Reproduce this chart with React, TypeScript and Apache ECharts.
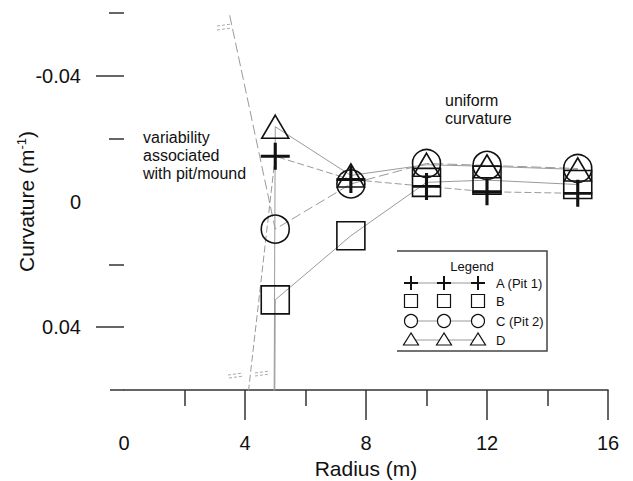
import React, { useEffect, useRef } from 'react';
import * as echarts from 'echarts';

// Radius (m) of the measured points
const radius = [5, 7.5, 10, 12, 15];
// Curvature (1/m) per profile
const curvA = [-0.0144, -0.007, -0.0048, -0.0031, -0.0026];
const curvB = [0.0313, 0.0109, -0.0061, -0.0068, -0.0054];
const curvC = [0.0088, -0.0056, -0.0121, -0.0115, -0.0105];
const curvD = [-0.0238, -0.0083, -0.0117, -0.0112, -0.0102];
// off-scale points (lines continue beyond the plotted range near the pit/mound)
const offA = [4.0, 0.07];
const offB = [4.98, 0.07];
const offC = [3.3, -0.068];
const offD = [4.96, 0.07];

const seriesNames = ['A (Pit 1)', 'B', 'C (Pit 2)', 'D'];
const xLabelValues = [0, 4, 8, 12, 16];
const xMajorTicks = [4, 8, 12, 16];
const xMinorTicks = [2, 6, 10, 14];
const yLabelValues = [-0.04, 0, 0.04];
const yMajorTicks = [-0.04, 0.04];
const yMinorTicks = [-0.06, -0.02, 0.02];

const FONT = 'Liberation Sans, Arial, sans-serif';
const AXIS_COLOR = '#333';
const LINE_GREY = '#9a9a9a';
const MARK = '#111';

const plusPath = 'path://M0,13.5 L29,13.5 M14.5,0 L14.5,27';

function makeSeries(
  name: string,
  ys: number[],
  off: number[],
  symbol: string,
  size: number | number[],
  bw: number,
  dash: any
) {
  return {
    type: 'line',
    name,
    data: [
      { value: off, symbol: 'none' },
      ...radius.map((r, i) => [r, ys[i]]),
    ],
    symbol,
    symbolSize: size,
    showAllSymbol: true,
    clip: true,
    itemStyle: { color: 'rgba(0,0,0,0)', borderColor: MARK, borderWidth: bw },
    lineStyle: { color: LINE_GREY, width: 1, type: dash },
    emphasis: { disabled: true },
  };
}

function legendGraphic() {
  const els: any[] = [];
  const left = 397, right = 547, top = 251, bottom = 351;
  els.push({
    type: 'polyline',
    shape: { points: [[left, top], [right, top], [right, bottom], [left, bottom]] },
    style: { stroke: '#444', lineWidth: 1.5, fill: 'none' },
  });
  els.push({
    type: 'text',
    x: 472,
    y: 266,
    style: { text: 'Legend', font: `13px ${FONT}`, fill: '#111', textAlign: 'center', textVerticalAlign: 'middle' },
  });
  const xs = [411, 444, 478];
  const rows = [283, 301, 321, 340];
  rows.forEach((cy, ri) => {
    if (ri !== 1) {
      els.push({
        type: 'line',
        shape: { x1: xs[0], y1: cy, x2: xs[2], y2: cy },
        style: { stroke: LINE_GREY, lineWidth: 1 },
        z: 1,
      });
    }
    xs.forEach((cx) => {
      if (ri === 0) {
        els.push({ type: 'line', shape: { x1: cx - 7, y1: cy, x2: cx + 7, y2: cy }, style: { stroke: MARK, lineWidth: 2 }, z: 2 });
        els.push({ type: 'line', shape: { x1: cx, y1: cy - 7, x2: cx, y2: cy + 7 }, style: { stroke: MARK, lineWidth: 2 }, z: 2 });
      } else if (ri === 1) {
        els.push({ type: 'rect', shape: { x: cx - 6.5, y: cy - 6.5, width: 13, height: 13 }, style: { stroke: MARK, lineWidth: 1.2, fill: '#fff' }, z: 2 });
      } else if (ri === 2) {
        els.push({ type: 'circle', shape: { cx, cy, r: 6.5 }, style: { stroke: MARK, lineWidth: 1.2, fill: '#fff' }, z: 2 });
      } else {
        els.push({ type: 'polygon', shape: { points: [[cx, cy - 7], [cx - 7.5, cy + 5], [cx + 7.5, cy + 5]] }, style: { stroke: MARK, lineWidth: 1.2, fill: '#fff' }, z: 2 });
      }
    });
    els.push({
      type: 'text',
      x: 496,
      y: cy,
      style: { text: seriesNames[ri], font: `13px ${FONT}`, fill: '#111', textAlign: 'left', textVerticalAlign: 'middle' },
    });
  });
  return els;
}

function breakMarks() {
  const segs = [
    [217, 26, 232, 24],
    [217, 30, 232, 28],
    [228, 375, 243, 373],
    [229, 378, 244, 376],
    [255, 373, 270, 371],
    [255, 376, 270, 374],
  ];
  return segs.map(([x1, y1, x2, y2]) => ({
    type: 'line',
    shape: { x1, y1, x2, y2 },
    style: { stroke: '#aaa', lineWidth: 1, lineDash: [3, 2] },
  }));
}

export default function App() {
  const ref = useRef<HTMLDivElement>(null);
  useEffect(() => {
    if (!ref.current) return;
    const chart = echarts.init(ref.current, null, { renderer: 'svg' });
    const tickStyle = { color: AXIS_COLOR, width: 1.5 };
    chart.setOption({
      animation: false,
      backgroundColor: '#fff',
      textStyle: { fontFamily: FONT },
      grid: { left: 124, right: 25, top: 13, bottom: 91, containLabel: false, outerBoundsMode: 'none' },
      xAxis: [
        {
          type: 'value',
          min: 0,
          max: 16,
          position: 'bottom',
          axisLine: { show: true, onZero: false, lineStyle: tickStyle },
          axisTick: { show: true, customValues: xMajorTicks, length: 30, lineStyle: tickStyle },
          axisLabel: { customValues: xLabelValues, margin: 43, fontSize: 20, color: '#111', fontFamily: FONT },
          splitLine: { show: false },
          name: 'Radius (m)',
          nameLocation: 'middle',
          nameGap: 64,
          nameTextStyle: { fontSize: 21, color: '#111', fontFamily: FONT },
        },
        {
          type: 'value',
          min: 0,
          max: 16,
          position: 'bottom',
          axisLine: { show: false, onZero: false },
          axisTick: { show: true, customValues: xMinorTicks, length: 16, lineStyle: tickStyle },
          axisLabel: { show: false },
          splitLine: { show: false },
        },
      ],
      yAxis: [
        {
          type: 'value',
          min: -0.06,
          max: 0.06,
          inverse: true,
          position: 'left',
          axisLine: { show: false },
          axisTick: { show: true, customValues: yMajorTicks, length: 28, lineStyle: tickStyle },
          axisLabel: {
            customValues: yLabelValues,
            margin: 43,
            fontSize: 20,
            color: '#111',
            fontFamily: FONT,
            formatter: (v: number) => (v === 0 ? '0' : String(v)),
          },
          splitLine: { show: false },
          name: 'Curvature (m{sup|-1})',
          nameLocation: 'middle',
          nameGap: 86,
          nameMoveOverlap: false,
          nameRotate: 90,
          nameTextStyle: {
            fontSize: 21,
            color: '#111',
            fontFamily: FONT,
            rich: { sup: { fontSize: 13, color: '#111', fontFamily: FONT, padding: [0, 0, 10, 0] } },
          },
        },
        {
          type: 'value',
          min: -0.06,
          max: 0.06,
          inverse: true,
          position: 'left',
          axisLine: { show: false },
          axisTick: { show: true, customValues: yMinorTicks, length: 15, lineStyle: tickStyle },
          axisLabel: { show: false },
          splitLine: { show: false },
        },
      ],
      series: [
        makeSeries(seriesNames[0], curvA, offA, plusPath, [29, 27], 3, [7, 3]),
        makeSeries(seriesNames[1], curvB, offB, 'rect', 28, 1.6, 'solid'),
        makeSeries(seriesNames[2], curvC, offC, 'circle', 28, 1.6, [10, 4]),
        makeSeries(seriesNames[3], curvD, offD, 'triangle', [27, 23], 1.6, 'solid'),
      ],
      graphic: [
        {
          type: 'line',
          shape: { x1: 110, y1: 390, x2: 124, y2: 390 },
          style: { stroke: AXIS_COLOR, lineWidth: 1.5 },
        },
        {
          type: 'text',
          x: 143,
          y: 128,
          style: {
            text: 'variability\nassociated\nwith pit/mound',
            font: `16px ${FONT}`,
            lineHeight: 18,
            fill: '#111',
            textAlign: 'left',
            textVerticalAlign: 'top',
          },
        },
        {
          type: 'text',
          x: 445,
          y: 91,
          style: {
            text: 'uniform\ncurvature',
            font: `16px ${FONT}`,
            lineHeight: 18,
            fill: '#111',
            textAlign: 'left',
            textVerticalAlign: 'top',
          },
        },
        ...breakMarks(),
        ...legendGraphic(),
      ],
    });
    return () => chart.dispose();
  }, []);
  return <div ref={ref} style={{ width: 633, height: 481, position: 'absolute', left: 0, top: 0 }} />;
}
